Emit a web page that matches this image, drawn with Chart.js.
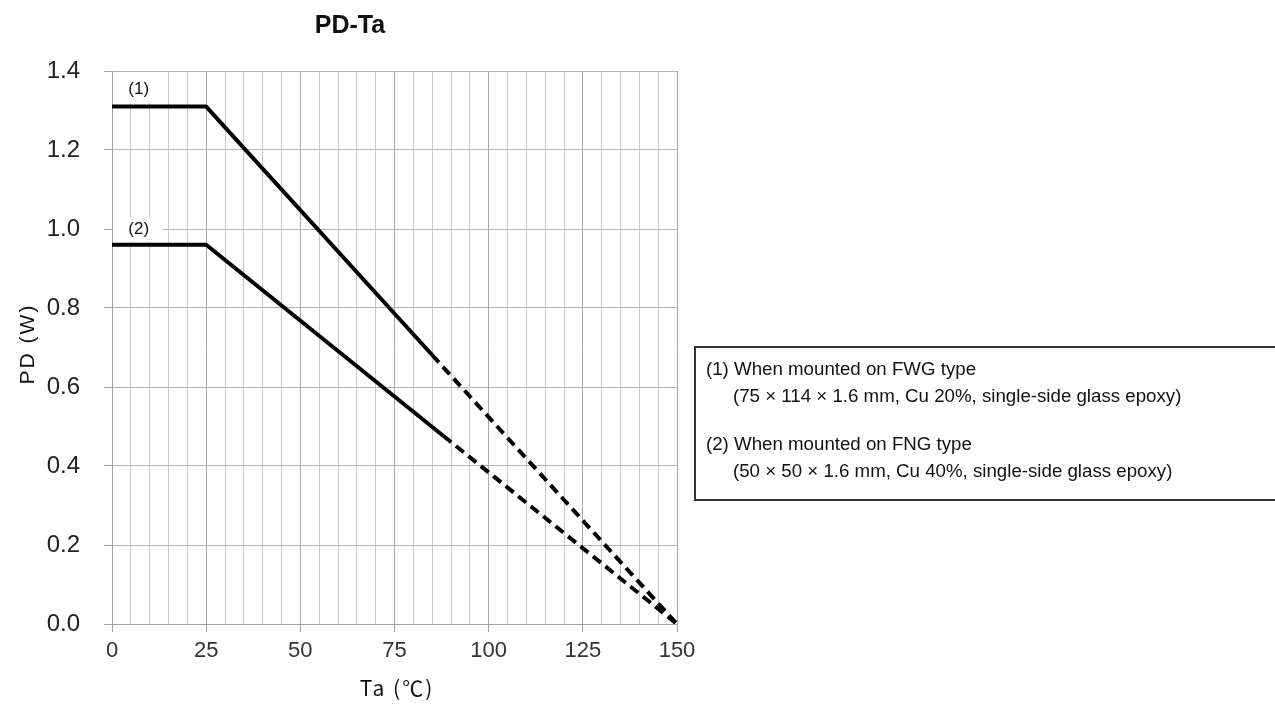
<!DOCTYPE html>
<html>
<head>
<meta charset="utf-8">
<script src="https://cdn.jsdelivr.net/npm/chart.js@4/dist/chart.umd.min.js"></script>
<style>
  html, body { margin: 0; padding: 0; background: #fff; }
  canvas { display: block; }
</style>
</head>
<body>
<canvas id="c" width="1275" height="704"></canvas>
<script>
// ---- data ----
const chartTitle = "PD-Ta";
const xTitle = "Ta (℃)";
const yTitle = "PD (W)";
const series1Ta = [0, 25, 85, 150];
const series1PD = [1.31, 1.31, 0.681, 0];
const series1DashFrom = 85;
const series2Ta = [0, 25, 88, 150];
const series2PD = [0.96, 0.96, 0.476, 0];
const series2DashFrom = 88;
const seriesLabels = ["(1)", "(2)"];
const xTickValues = [0, 25, 50, 75, 100, 125, 150];
const yTickValues = [0.0, 0.2, 0.4, 0.6, 0.8, 1.0, 1.2, 1.4];
const noteLines = [
  "(1) When mounted on FWG type",
  "(75 \u00d7 114 \u00d7 1.6 mm, Cu 20%, single-side glass epoxy)",
  "(2) When mounted on FNG type",
  "(50 \u00d7 50 \u00d7 1.6 mm, Cu 40%, single-side glass epoxy)"
];

const toPts = (xs, ys) => xs.map((x, i) => ({ x: x, y: ys[i] }));
const dashAfter = (from) => (ctx) => ctx.p0.parsed.x >= from ? [10, 6] : undefined;

const FONT = "'Liberation Sans', Arial, sans-serif";

function spacedCentered(c, txt, cx, by, sp) {
  c.save();
  c.letterSpacing = sp + 'px';
  const w = c.measureText(txt).width - sp;
  c.textAlign = 'left';
  c.fillText(txt, cx - w / 2, by);
  c.restore();
}

const decor = {
  id: 'decor',
  beforeDatasetsDraw(chart) {
    const c = chart.ctx, xs = chart.scales.x, ys = chart.scales.y;
    c.save();
    c.fillStyle = '#ffffff';
    const b1 = [xs.getPixelForValue(0) + 1, ys.getPixelForValue(1.397), xs.getPixelForValue(13.5), ys.getPixelForValue(1.318)];
    c.fillRect(b1[0], b1[1], b1[2] - b1[0], b1[3] - b1[1]);
    const b2 = [xs.getPixelForValue(0) + 1, ys.getPixelForValue(1.03), xs.getPixelForValue(13.5), ys.getPixelForValue(0.967)];
    c.fillRect(b2[0], b2[1], b2[2] - b2[0], b2[3] - b2[1]);
    c.fillStyle = '#111';
    c.font = "17px " + FONT;
    c.textAlign = 'center';
    c.textBaseline = 'middle';
    c.fillText(seriesLabels[0], xs.getPixelForValue(7.1), ys.getPixelForValue(1.354));
    c.fillText(seriesLabels[1], xs.getPixelForValue(7.1), ys.getPixelForValue(1.0));
    c.restore();
  },
  afterDraw(chart) {
    const c = chart.ctx;
    c.save();
    c.fillStyle = '#111';
    c.font = "bold 25px " + FONT;
    c.textAlign = 'center';
    c.textBaseline = 'alphabetic';
    c.fillText(chartTitle, 350, 33);
    // x title
    c.font = "21px 'Noto Sans CJK JP', 'Liberation Sans', sans-serif";
    spacedCentered(c, xTitle, 396, 696, 2);
    // y title
    c.save();
    c.translate(34, 345);
    c.rotate(-Math.PI / 2);
    c.font = "21px " + FONT;
    spacedCentered(c, yTitle, 0, 0, 2);
    c.restore();
    // note box
    c.strokeStyle = '#333';
    c.lineWidth = 2;
    c.strokeRect(695, 347, 600, 153);
    c.font = "18.7px " + FONT;
    c.textAlign = 'left';
    c.fillStyle = '#111';
    c.fillText(noteLines[0], 706, 375);
    c.fillText(noteLines[1], 733, 402);
    c.fillText(noteLines[2], 706, 450);
    c.fillText(noteLines[3], 733, 477);
    c.restore();
  }
};

new Chart(document.getElementById('c'), {
  type: 'line',
  data: {
    datasets: [
      {
        data: toPts(series1Ta, series1PD),
        borderColor: '#000', borderWidth: 4, pointRadius: 0, tension: 0,
        borderCapStyle: 'butt', borderJoinStyle: 'round',
        segment: { borderDash: dashAfter(series1DashFrom) }
      },
      {
        data: toPts(series2Ta, series2PD),
        borderColor: '#000', borderWidth: 4, pointRadius: 0, tension: 0,
        borderCapStyle: 'butt', borderJoinStyle: 'round',
        segment: { borderDash: dashAfter(series2DashFrom) }
      }
    ]
  },
  options: {
    responsive: false,
    animation: false,
    layout: { padding: { top: 71, right: 598, bottom: 0, left: 0 } },
    plugins: { legend: { display: false }, title: { display: false }, tooltip: { enabled: false } },
    scales: {
      x: {
        type: 'linear', min: 0, max: 150,
        afterFit: (s) => { s.height = 80; },
        afterBuildTicks: (s) => {
          const t = [];
          for (let v = 0; v <= 150; v += 5) t.push({ value: v });
          s.ticks = t;
        },
        border: { color: '#a0a0a0', width: 1 },
        grid: {
          color: (ctx) => (ctx.tick && xTickValues.includes(ctx.tick.value)) ? '#a8a8a8' : '#c8c8c8',
          tickColor: (ctx) => (ctx.tick && xTickValues.includes(ctx.tick.value)) ? '#a0a0a0' : 'rgba(0,0,0,0)',
          tickLength: 8
        },
        ticks: {
          autoSkip: false, maxRotation: 0, padding: 6,
          color: '#333',
          font: { family: FONT, size: 22 },
          callback: (v) => xTickValues.includes(v) ? String(v) : ''
        }
      },
      y: {
        type: 'linear', min: 0, max: 1.4,
        afterFit: (s) => { s.width = 112; },
        afterBuildTicks: (s) => { s.ticks = yTickValues.map(v => ({ value: v })); },
        border: { color: '#a0a0a0', width: 1 },
        grid: { color: '#b4b4b4', tickColor: '#a0a0a0', tickLength: 8 },
        ticks: {
          padding: 24, color: '#222',
          font: { family: FONT, size: 24 },
          callback: (v) => Number(v).toFixed(1)
        }
      }
    }
  },
  plugins: [decor]
});
</script>
</body>
</html>
